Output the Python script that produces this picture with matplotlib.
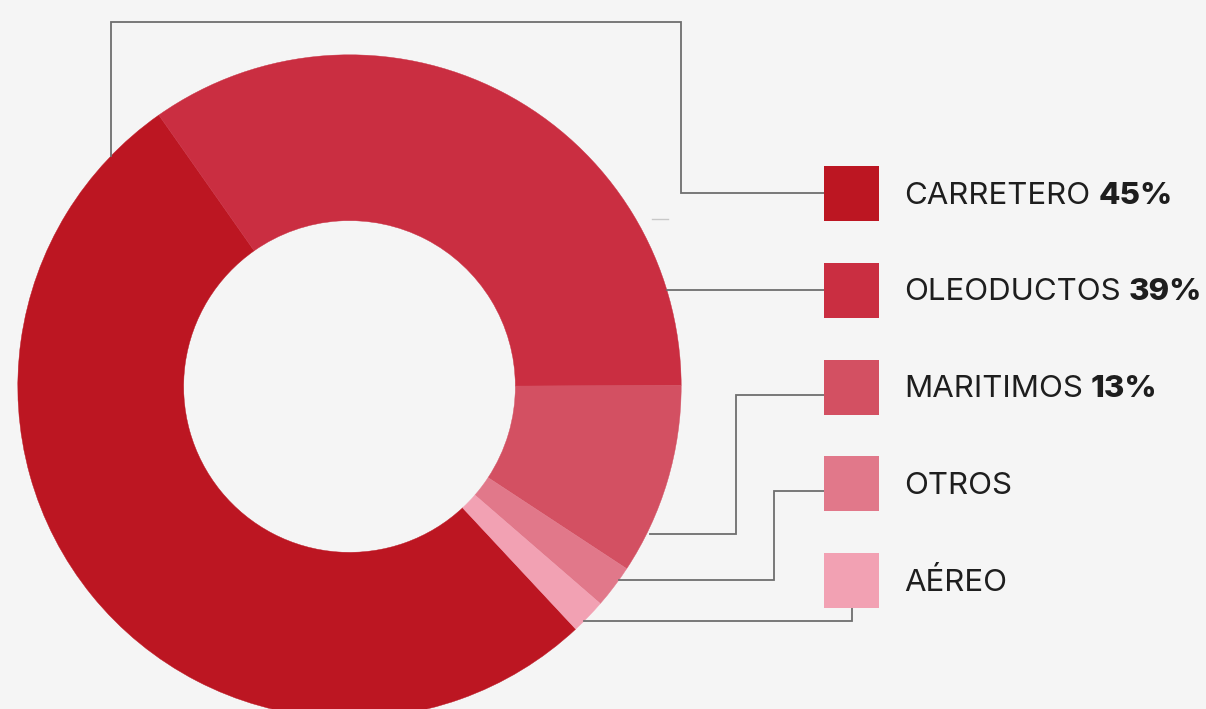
import matplotlib
matplotlib.use('Agg')
import matplotlib.pyplot as plt
from matplotlib.patches import Rectangle
import numpy as np

# ---------------- data ----------------
categories = ['CARRETERO', 'OLEODUCTOS', 'MARITIMOS', 'OTROS', 'AÉREO']
slice_shares = [52.2, 34.7, 9.3, 2.1, 1.7]      # share of the ring as drawn (%)
label_percents = ['45%', '39%', '13%', '', '']  # printed in the legend
colors = ['#BC1622', '#CA2E41', '#D35062', '#E1788A', '#F2A1B3']

# ---------------- layout ----------------
W, H = 1206, 709
BG = '#F5F5F5'
LINE = '#6E6E6E'
TEXT = '#1E1E1E'
FONT = 'Inter'
FS = 22.5

fig = plt.figure(figsize=(W / 100, H / 100), dpi=100, facecolor=BG)
ax = fig.add_axes([0, 0, 1, 1])
ax.set_facecolor(BG)


def Y(y):
    return H - y


cx, cy = 349.5, 386.5
R = 331.7
hole = 0.5

wedges, _ = ax.pie(slice_shares, colors=colors, startangle=-47, counterclock=False,
                   center=(cx, Y(cy)), radius=R,
                   wedgeprops=dict(width=R * (1 - hole), linewidth=0.3),
                   frame=True)
for w, c in zip(wedges, colors):
    w.set_edgecolor(c)
ax.set_xlim(0, W)
ax.set_ylim(0, H)
ax.set_aspect('equal')
ax.axis('off')


def edge_x(y):
    return cx + np.sqrt(R ** 2 - (y - cy) ** 2)


def edge_y_top(x):
    return cy - np.sqrt(R ** 2 - (x - cx) ** 2)


box_x, box_size = 824, 55
box_tops = [166 + i * 96.75 for i in range(len(categories))]

# leader lines (image coordinates)
leaders = [
    [(111, edge_y_top(111)), (111, 22), (681, 22), (681, 193.3), (box_x, 193.3)],
    [(edge_x(290.3), 290.3), (box_x, 290.3)],
    [(edge_x(534.3) + 4, 534.3), (736, 534.3), (736, 395), (box_x, 395)],
    [(edge_x(580.3), 580.3), (774, 580.3), (774, 491.3), (box_x, 491.3)],
    [(edge_x(620.7), 620.7), (852, 620.7), (852, box_tops[4] + box_size)],
]
for pts in leaders:
    xs = [p[0] for p in pts]
    ys = [Y(p[1]) for p in pts]
    ax.plot(xs, ys, color=LINE, lw=1.3, solid_joinstyle='miter', zorder=1)

# faint stray dash
ax.plot([652, 668], [Y(219.3), Y(219.3)], color='#C8C8C8', lw=1.0, zorder=1)

# legend boxes and labels
texts = []
for name, col, top in zip(categories, colors, box_tops):
    ax.add_patch(Rectangle((box_x, Y(top + box_size)), box_size, box_size,
                           facecolor=col, edgecolor='none', zorder=3))
    t = ax.text(904, Y(top + 37.7), name, fontsize=FS, family=FONT,
                color=TEXT, ha='left', va='baseline', zorder=4)
    texts.append(t)

fig.canvas.draw()
renderer = fig.canvas.get_renderer()
inv = ax.transData.inverted()
for t, pct in zip(texts, label_percents):
    if not pct:
        continue
    bb = t.get_window_extent(renderer)
    x_end = inv.transform((bb.x1, bb.y0))[0]
    ax.text(x_end + 8, t.get_position()[1], pct, fontsize=FS, family=FONT,
            fontweight='heavy', color=TEXT, ha='left', va='baseline', zorder=4)

fig.savefig('out.png', dpi=100, facecolor=BG)
